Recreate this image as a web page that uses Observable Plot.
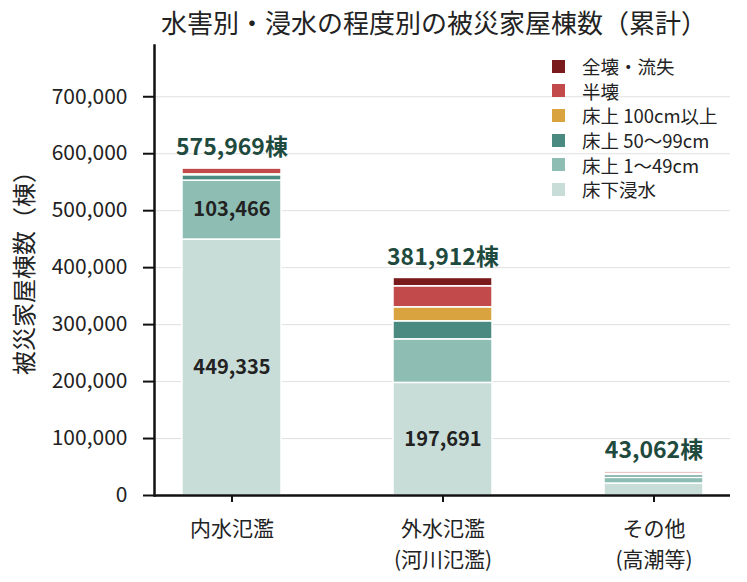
<!DOCTYPE html>
<html>
<head>
<meta charset="utf-8">
<script src="https://cdn.jsdelivr.net/npm/d3@7"></script>
<script src="https://cdn.jsdelivr.net/npm/@observablehq/plot@0.6"></script>
<style>
  body { margin: 0; background: white; font-family: 'Noto Sans CJK JP', sans-serif; }
  #wrap { position: relative; width: 747px; height: 582px; }
  #title { height: 40px; line-height: 44px; width: 747px; padding-left: 121px; box-sizing: border-box; text-align: center; font-size: 26px; color: #222; white-space: nowrap; }
  #ylabel { position: absolute; left: 22px; top: 267px; width: 0; height: 0; }
  #ylabel span { position: absolute; left: 0; top: 0; transform: translate(-50%, -50%) rotate(-90deg); white-space: nowrap; font-size: 24px; color: #222; }
  #legend { position: absolute; left: 552px; top: 54px; }
  .item { display: flex; align-items: center; height: 24.6px; font-size: 18.5px; color: #222; }
  .sw { width: 13px; height: 13px; margin-right: 17px; }
</style>
</head>
<body>
<div id="wrap">
  <div id="title">水害別・浸水の程度別の被災家屋棟数（累計）</div>
  <div id="chart"></div>
  <div id="ylabel"><span>被災家屋棟数（棟）</span></div>
  <div id="legend"></div>
</div>
<script>
const categories = ["内水氾濫", "外水氾濫\n(河川氾濫)", "その他\n(高潮等)"];
const types = ["床下浸水", "床上 1～49cm", "床上 50～99cm", "床上 100cm以上", "半壊", "全壊・流失"];
const colors = ["#c8ddd8", "#8dbdb3", "#4b8a80", "#d9a340", "#c24a4b", "#7a1a1c"];
const naisui = [449335, 103466, 9500, 1500, 10500, 1668];
const gaisui = [197691, 76474, 31636, 24600, 36900, 14611];
const sonota = [21000, 10000, 5000, 2500, 3500, 1062];
const totals = [575969, 381912, 43062];
const yTicks = [0, 100000, 200000, 300000, 400000, 500000, 600000, 700000];

const fmt = d3.format(",");
const series = [naisui, gaisui, sonota];
const data = [];
categories.forEach((c, i) => types.forEach((t, j) => data.push({cat: c, type: t, value: series[i][j]})));
const totalData = categories.map((c, i) => ({cat: c, total: totals[i]}));

const chart = Plot.plot({
  width: 747, height: 542,
  marginTop: 5, marginBottom: 87, marginLeft: 154, marginRight: 17,
  x: {domain: categories, paddingInner: 0.531, paddingOuter: 0.13},
  y: {domain: [0, 790000]},
  color: {domain: types, range: colors},
  style: {fontFamily: "'Noto Sans CJK JP', sans-serif", background: "white", color: "#222"},
  marks: [
    Plot.gridY(yTicks.slice(1), {stroke: "#bbb", strokeOpacity: 0.45}),
    Plot.barY(data, {x: "cat", y: "value", fill: "type", order: types, stroke: "white", strokeWidth: 1.5}),
    Plot.text(data, Plot.stackY({x: "cat", y: "value", z: "type", order: types,
      text: d => d.value > 100000 ? fmt(d.value) : "", fontSize: 20, fontWeight: "bold", fill: "#222"})),
    Plot.text(totalData, {x: "cat", y: "total", text: d => fmt(d.total) + "棟", dy: -20,
      fontSize: 23, fontWeight: "bold", fill: "#1f4a3e"}),
    Plot.axisY({ticks: yTicks, tickFormat: fmt, tickSize: 11, tickPadding: 16, fontSize: 21,
      label: null, strokeWidth: 2, stroke: "#111", fill: "#222"}),
    Plot.axisX({tickSize: 7, tickPadding: 12, fontSize: 21, label: null, lineHeight: 1.45,
      strokeWidth: 2, stroke: "#111", fill: "#222"}),
    Plot.frame({anchor: "left", stroke: "#111", strokeWidth: 2.5}),
    Plot.ruleY([0], {stroke: "#111", strokeWidth: 2.5})
  ]
});
document.getElementById("chart").appendChild(chart);

const legend = document.getElementById("legend");
types.slice().reverse().forEach((t, k) => {
  const col = colors[types.length - 1 - k];
  const row = document.createElement("div");
  row.className = "item";
  row.innerHTML = `<div class="sw" style="background:${col}"></div><span>${t}</span>`;
  legend.appendChild(row);
});
</script>
</body>
</html>
